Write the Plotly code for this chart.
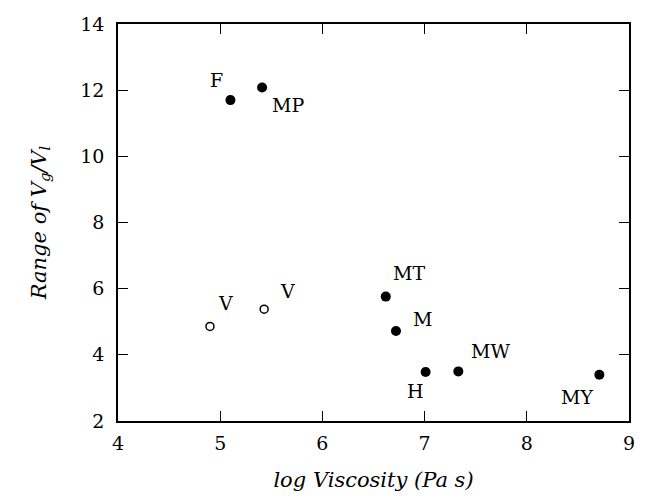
import plotly.graph_objects as go

labels = ["F", "MP", "V", "V", "MT", "M", "H", "MW", "MY"]
log_visc = [5.10, 5.41, 4.90, 5.43, 6.62, 6.72, 7.01, 7.33, 8.71]
vg_vl = [11.70, 12.08, 4.86, 5.38, 5.76, 4.72, 3.48, 3.50, 3.40]
filled = [True, True, False, False, True, True, True, True, True]
# label offsets (pixels) relative to each point
dx = [-14, 26, 16, 23, 23, 27, -10, 32, -22]
dy = [20, -17, 23, 18, 24, 12, -19, 20, -22]

FONT = "DejaVu Serif"

fig = go.Figure()
fx = [x for x, f in zip(log_visc, filled) if f]
fy = [y for y, f in zip(vg_vl, filled) if f]
ox = [x for x, f in zip(log_visc, filled) if not f]
oy = [y for y, f in zip(vg_vl, filled) if not f]

fig.add_trace(go.Scatter(x=fx, y=fy, mode="markers",
                         marker=dict(color="black", size=10),
                         showlegend=False, hoverinfo="skip"))
fig.add_trace(go.Scatter(x=ox, y=oy, mode="markers",
                         marker=dict(color="white", size=8, symbol="circle",
                                     line=dict(color="black", width=1.5)),
                         showlegend=False, hoverinfo="skip"))

for lab, x, y, sx, sy in zip(labels, log_visc, vg_vl, dx, dy):
    fig.add_annotation(x=x, y=y, text=lab, showarrow=False,
                       xshift=sx, yshift=sy,
                       font=dict(family=FONT, size=19, color="black"))

axis_common = dict(showgrid=False, zeroline=False, showline=True,
                   linecolor="black", linewidth=1.5, mirror="ticks",
                   ticks="inside", ticklen=10, tickwidth=1.2,
                   tickcolor="black",
                   tickfont=dict(family=FONT, size=19, color="black"))

fig.update_xaxes(range=[4, 9], dtick=1, tick0=4, ticklabelstandoff=4,
                 title=dict(text="<i>log Viscosity (Pa s)</i>",
                            font=dict(family=FONT, size=21, color="black"),
                            standoff=20),
                 **axis_common)
fig.update_yaxes(range=[2, 14], dtick=2, tick0=2, ticklabelstandoff=8,
                 title=dict(text="<i>Range of V<sub>g</sub>/V<sub>l</sub></i>",
                            font=dict(family=FONT, size=21, color="black"),
                            standoff=28),
                 **axis_common)

fig.update_layout(width=652, height=502,
                  margin=dict(l=118, r=23, t=24, b=81),
                  font=dict(family=FONT),
                  plot_bgcolor="white", paper_bgcolor="white")

fig.write_html("out.html")
